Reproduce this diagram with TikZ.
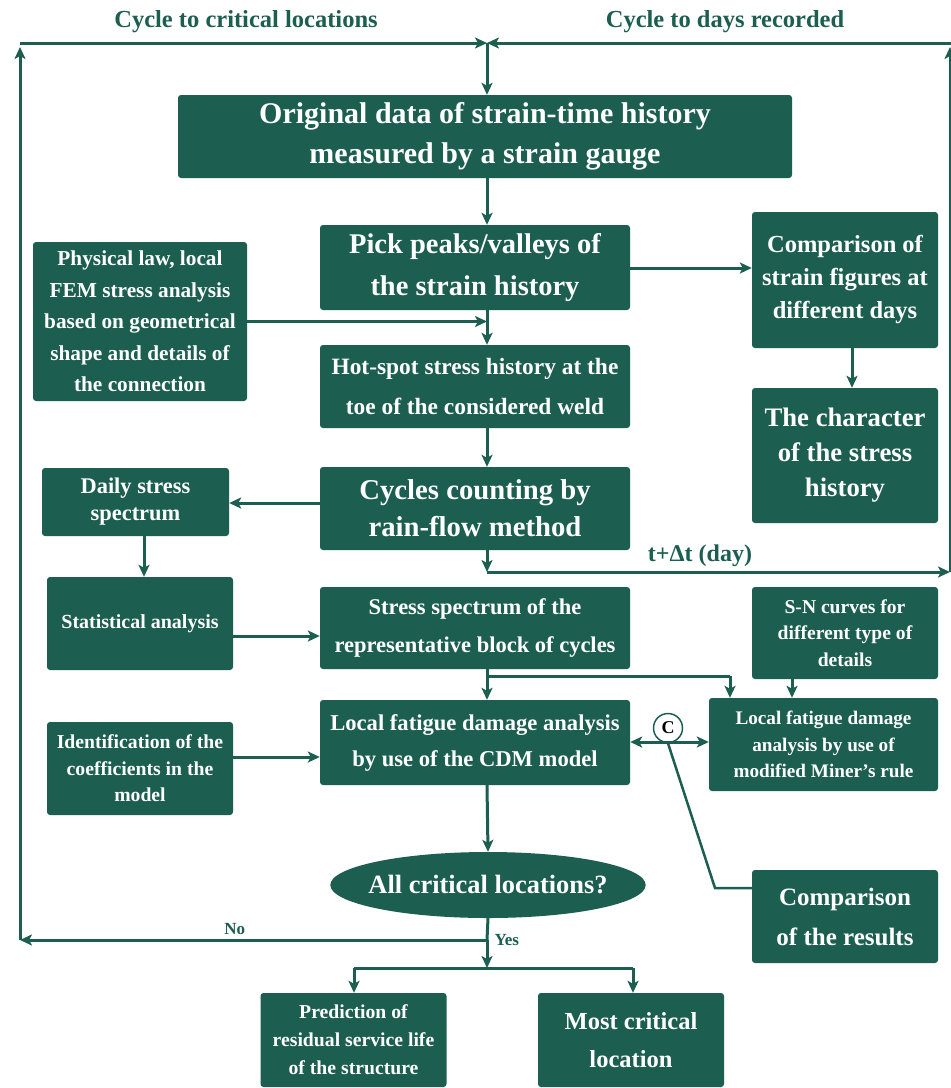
\documentclass[tikz,border=0pt]{standalone}
\usepackage{fontspec}
\setmainfont{Liberation Serif}
\usetikzlibrary{arrows.meta,shapes.geometric}
\definecolor{flowgreen}{RGB}{28,94,80}
\newcommand{\fs}[2]{\fontsize{#1}{#2}\selectfont\bfseries}
\begin{document}
\begin{tikzpicture}[x=1pt,y=-1pt,
  box/.style={fill=flowgreen,text=white,rounded corners=3pt,align=center,inner sep=0pt},
  link/.style={draw=flowgreen,line width=3pt,-{Stealth[length=12pt,width=11pt,inset=3pt]}},
  dlink/.style={draw=flowgreen,line width=3pt,{Stealth[length=12pt,width=11pt,inset=3pt]}-{Stealth[length=12pt,width=11pt,inset=3pt]}},
  wire/.style={draw=flowgreen,line width=3pt},
  caption/.style={text=flowgreen,inner sep=0pt}]
\useasboundingbox (0,0) rectangle (951,1088);
\fill[white] (0,0) rectangle (951,1088);

% reference coordinates for the loops and the spine
\coordinate (spine) at (487,0);
\coordinate (topmid) at (487,43);
\coordinate (topleft) at (20,43);
\coordinate (topright) at (951,43);
\coordinate (leftfoot) at (20,940);
\coordinate (rightx) at (950,572);
\coordinate (daystep) at (487,572);
\coordinate (branch) at (487,676);
\coordinate (minerin) at (730,676);
\coordinate (snx) at (792,0);
\coordinate (dailyx) at (144,0);
\coordinate (decide) at (487,940);
\coordinate (split) at (487,968);
\coordinate (splitl) at (354,968);
\coordinate (splitr) at (633,968);
\coordinate (bend) at (715,888);

% loop captions
\node[caption,font=\fs{24.5}{28}] (capl) at (246,22) {Cycle to critical locations};
\node[caption,font=\fs{24.5}{28}] (capr) at (725,22) {Cycle to days recorded};

% main column
\node[box,minimum width=614,minimum height=83,font=\fs{30}{40}] (orig) at (485,136.5)
  {Original data of strain-time history\\measured by a strain gauge};
\node[box,minimum width=310,minimum height=85,font=\fs{28.5}{42}] (pick) at (475,267.5)
  {Pick peaks/valleys of\\the strain history};
\node[box,minimum width=310,minimum height=83,font=\fs{23.4}{40}] (hot) at (475,386.5)
  {Hot-spot stress history at the\\toe of the considered weld};
\node[box,minimum width=310,minimum height=83,font=\fs{28.7}{37}] (rain) at (475,508.5)
  {Cycles counting by\\rain-flow method};
\node[box,minimum width=310,minimum height=82,font=\fs{22.5}{38}] (spec) at (475,628)
  {Stress spectrum of the\\representative block of cycles};
\node[box,minimum width=310,minimum height=85,font=\fs{22.6}{36}] (cdm) at (475,742.5)
  {Local fatigue damage analysis\\by use of the CDM model};
\node[ellipse,fill=flowgreen,text=white,minimum width=313,minimum height=66,inner xsep=-8pt,inner ysep=0pt,font=\fs{26.4}{30}] (all) at (488,885)
  {All critical locations?};

% left column
\node[box,minimum width=214,minimum height=159,font=\fs{21.3}{31.5}] (phys) at (140,321.5)
  {Physical law, local\\FEM stress analysis\\based on geometrical\\shape and details of\\the connection};
\node[box,minimum width=187,minimum height=68,font=\fs{22.4}{27}] (daily) at (135.5,502)
  {Daily stress\\spectrum};
\node[box,minimum width=186,minimum height=93,font=\fs{20}{24}] (stat) at (140,623.5)
  {Statistical analysis};
\node[box,minimum width=186,minimum height=93,font=\fs{19.7}{26.5}] (ident) at (140,768.5)
  {Identification of the\\coefficients in the\\model};

% right column
\node[box,minimum width=186,minimum height=136,font=\fs{24.5}{33}] (compd) at (845,280)
  {Comparison of\\strain figures at\\different days};
\node[box,minimum width=186,minimum height=135,font=\fs{26.7}{35}] (char) at (845,455.5)
  {The character\\of the stress\\history};
\node[box,minimum width=186,minimum height=92,font=\fs{19.6}{26.5}] (sn) at (845,633)
  {S-N curves for\\different type of\\details};
\node[box,minimum width=229,minimum height=93,font=\fs{19.2}{26.5}] (miner) at (823.5,744.5)
  {Local fatigue damage\\analysis by use of\\modified Miner's rule};
\node[box,minimum width=186,minimum height=93,font=\fs{25}{40}] (compr) at (845,916.5)
  {Comparison\\of the results};

% bottom row
\node[box,minimum width=186,minimum height=94,font=\fs{19.7}{28}] (pred) at (353.5,1040)
  {Prediction of\\residual service life\\of the structure};
\node[box,minimum width=186,minimum height=94,font=\fs{24.5}{38}] (most) at (631,1040)
  {Most critical\\location};

% comparison marker
\node[circle,draw=flowgreen,line width=1.5pt,fill=white,minimum size=29,inner sep=0pt,font=\fs{18}{20}] (cmark) at (668,728) {C};

% top loop
\draw[link] (topleft) -- (topmid);
\draw[link] (topright) -- (topmid);
\draw[link] (topmid) -- (orig.north -| spine);
\draw[link] (leftfoot) -- ([yshift=-4]topleft);
\draw[link] (rightx) -- (950,47);

% main flow
\draw[link] (orig.south -| spine) -- (pick.north -| spine);
\draw[link] (pick.south -| spine) -- (hot.north -| spine);
\draw[link] (phys.east) -- (phys.east -| spine);
\draw[link] (hot.south -| spine) -- (rain.north -| spine);
\draw[link] (pick.east |- 0,268) -- (compd.west |- 0,268);
\draw[link] ([xshift=7]compd.south) -- ([xshift=7]char.north);
\draw[link] (rain.west |- 0,503) -- (daily.east |- 0,503);
\draw[link] (daily.south -| dailyx) -- (stat.north -| dailyx);
\draw[link] (stat.east |- 0,636) -- (spec.west |- 0,636);
\draw[link] (rain.south -| spine) -- (daystep);
\draw[link] (daystep) -- (rightx) node[pos=0.46,above=4pt,caption,font=\fs{24}{26}] (dt) {t+Δt (day)};
\draw[link] (spec.south -| spine) -- (cdm.north -| spine);
\draw[wire] (branch) -- (minerin);
\draw[link] (minerin) -- (minerin |- miner.north);
\draw[link] (sn.south -| snx) -- (miner.north -| snx);
\draw[dlink] (cdm.east |- 0,742) -- (miner.west |- 0,742);
\draw[link] (ident.east |- 0,757) -- (cdm.west |- 0,757);
\draw[wire,line width=2.5pt] (cmark.south) -- (bend) -- (bend -| compr.west);
\draw[link] (cdm.south -| spine) -- (all.north);

% decision outcomes
\draw[wire] (all.south) -- (decide);
\draw[link] (decide) -- (leftfoot) node[pos=0.54,above=4pt,caption,font=\fs{17}{20}] (no) {No};
\draw[link] (decide) -- (split) node[pos=0,right=6pt,caption,font=\fs{17}{20}] (yes) {Yes};
\draw[wire] (splitl) -- (splitr);
\draw[link] (splitl) -- (splitl |- pred.north);
\draw[link] (splitr) -- (splitr |- most.north);
\end{tikzpicture}
\end{document}
